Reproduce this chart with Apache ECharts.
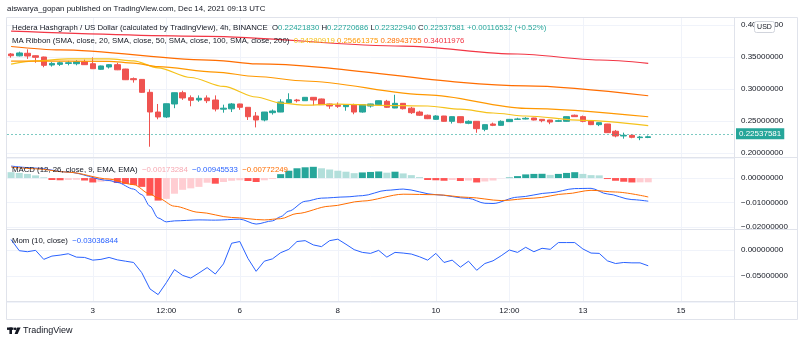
<!DOCTYPE html>
<html><head><meta charset="utf-8">
<script src="https://cdn.jsdelivr.net/npm/echarts@6.0.0/dist/echarts.min.js"></script>
<style>html,body{margin:0;padding:0;background:#fff}#c{width:800px;height:343px}</style>
</head><body><div id="c"></div>
<script>
const FONT = '"Liberation Sans", Arial, sans-serif';
// candle index: 0 = Dec 3 00:00, 4h candles; first candle idx -10, last idx 68
const firstIdx = -10, lastAxisIdx = 78;
const timeTickIdx = [0, 9, 18, 30, 42, 51, 60, 72];
const timeTickText = ['3', '12:00', '6', '8', '10', '12:00', '13', '15'];

const opens = [0.3547,0.3518,0.3558,0.3520,0.3500,0.3375,0.3385,0.3400,0.3395,0.3427,
 0.3395,0.3308,0.3344,0.3380,0.3312,0.3162,0.3150,0.2948,0.2640,0.2563,
 0.2766,0.2942,0.2864,0.2828,0.2860,0.2828,0.2685,0.2690,0.2766,0.2714,
 0.2578,0.2516,0.2630,0.2640,0.2786,0.2828,0.2817,0.2870,0.2844,0.2766,
 0.2745,0.2724,0.2755,0.2640,0.2734,0.2755,0.2808,0.2703,0.2776,0.2700,
 0.2640,0.2590,0.2526,0.2578,0.2495,0.2568,0.2464,0.2495,0.2370,0.2453,
 0.2432,0.2490,0.2526,0.2531,0.2547,0.2526,0.2516,0.2495,0.2495,0.2590,
 0.2568,0.2505,0.2443,0.2453,0.2340,0.2266,0.2276,0.2240,0.22421830];
const closes = [0.3520,0.3563,0.3516,0.3495,0.3370,0.3400,0.3410,0.3410,0.3427,0.3380,
 0.3317,0.3360,0.3380,0.3300,0.3145,0.3145,0.2948,0.2641,0.2563,0.2770,
 0.2942,0.2860,0.2823,0.2855,0.2817,0.2687,0.2700,0.2766,0.2714,0.2567,
 0.2516,0.2640,0.2656,0.2797,0.2833,0.2817,0.2870,0.2828,0.2755,0.2734,
 0.2730,0.2755,0.2640,0.2755,0.2766,0.2817,0.2714,0.2776,0.2692,0.2630,
 0.2590,0.2536,0.2578,0.2495,0.2568,0.2474,0.2495,0.2380,0.2443,0.2432,
 0.2495,0.2526,0.2531,0.2542,0.2516,0.2505,0.2484,0.2505,0.2568,0.2568,
 0.2495,0.2443,0.2474,0.2318,0.2266,0.2276,0.2245,0.2250,0.22537581];
const lows = [0.3490,0.3510,0.3470,0.3410,0.3340,0.3350,0.3360,0.3370,0.3370,0.3375,
 0.3312,0.3300,0.3320,0.3295,0.3140,0.3100,0.2940,0.2098,0.2527,0.2547,
 0.2700,0.2830,0.2730,0.2800,0.2780,0.2650,0.2630,0.2640,0.2675,0.2516,
 0.2400,0.2495,0.2600,0.2638,0.2776,0.2790,0.2815,0.2745,0.2750,0.2690,
 0.2705,0.2660,0.2605,0.2630,0.2710,0.2750,0.2705,0.2700,0.2680,0.2610,
 0.2580,0.2530,0.2520,0.2490,0.2460,0.2465,0.2450,0.2316,0.2340,0.2420,
 0.2425,0.2485,0.2520,0.2525,0.2510,0.2480,0.2450,0.2485,0.2490,0.2565,
 0.2480,0.2436,0.2420,0.2315,0.2245,0.2224,0.2230,0.2200,0.22322940];
const highs = [0.3562,0.3583,0.3620,0.3525,0.3505,0.3420,0.3430,0.3440,0.3450,0.3460,
 0.3495,0.3365,0.3390,0.3410,0.3315,0.3180,0.3155,0.2995,0.2766,0.2772,
 0.2945,0.2973,0.2900,0.2900,0.2900,0.2900,0.2755,0.2780,0.2770,0.2716,
 0.2640,0.2642,0.2680,0.2840,0.2933,0.2845,0.2875,0.2875,0.2850,0.2770,
 0.2790,0.2760,0.2770,0.2760,0.2770,0.2820,0.2830,0.2910,0.2778,0.2720,
 0.2660,0.2600,0.2590,0.2580,0.2570,0.2570,0.2510,0.2500,0.2445,0.2475,
 0.2510,0.2530,0.2550,0.2560,0.2550,0.2530,0.2520,0.2520,0.2572,0.2600,
 0.2585,0.2510,0.2480,0.2455,0.2360,0.2318,0.2290,0.2268,0.22720686];

// MA ribbon: [candle index, value]
const ma20 = [[-10,0.3390],[-7,0.3440],[-3,0.3472],[2,0.3472],[5,0.3440],[8,0.3330],[12,0.3180],[16,0.3040],[20,0.2875],[23,0.2780],[26,0.2748],[30,0.2765],[35,0.2745],[41,0.2734],[45,0.2685],[49,0.2625],[53,0.2578],[60,0.2510],[68,0.24280919]];
const ma50 = [[-10,0.3437],[2,0.3433],[5,0.3405],[8,0.3350],[15,0.3265],[20,0.3195],[26,0.3125],[41,0.2908],[53,0.2698],[68,0.25661375]];
const ma100 = [[-10,0.3664],[-4,0.3610],[15,0.3448],[20,0.3393],[53,0.3050],[68,0.28943755]];
const ma200 = [[-10,0.3903],[14,0.3823],[38,0.3670],[52,0.3547],[62,0.3453],[68,0.34011976]];

// MACD histogram per candle
const macdHist = [0.0024,0.0021,0.0017,0.0011,0.0003,-0.0008,-0.0009,-0.0008,-0.0007,-0.0010,
 -0.0018,-0.0015,-0.0013,-0.0020,-0.0024,-0.0028,-0.0036,-0.0072,-0.0092,-0.0085,
 -0.0064,-0.0048,-0.0042,-0.0036,-0.0019,-0.0023,-0.0016,-0.0011,-0.0009,-0.0012,
 -0.0016,-0.0009,-0.0004,0.0016,0.0030,0.0040,0.0044,0.0046,0.0040,0.0035,
 0.0030,0.0026,0.0020,0.0023,0.0025,0.0027,0.0022,0.0026,0.0019,0.0012,
 0.0004,-0.0008,-0.0009,-0.0011,-0.0008,-0.0012,-0.0010,-0.0018,-0.0014,-0.0010,
 -0.0001,0.0002,0.0008,0.0015,0.0017,0.00175,0.0013,0.0017,0.0021,0.0024,
 0.0017,0.0012,0.0011,-0.0004,-0.0011,-0.0015,-0.0018,-0.00175,-0.00173284];
const macdLine = [[-10,0.0049],[-7,0.0041],[-3,0.0024],[2,-0.0010],[3,-0.0018],[5,-0.0045],[6,-0.0068],[7,-0.0115],[8,-0.0163],[9,-0.0179],[10,-0.0175],[13,-0.0171],[15,-0.0172],[18,-0.0168],[20,-0.0188],[22,-0.0175],[23,-0.0158],[24,-0.0135],[26,-0.0095],[28,-0.0082],[31,-0.0077],[33,-0.0072],[36,-0.0050],[38,-0.0045],[42,-0.0068],[46,-0.0083],[48,-0.0103],[49,-0.0104],[52,-0.0078],[56,-0.0060],[59,-0.0043],[61,-0.0042],[63,-0.0065],[66,-0.0088],[68,-0.00945533]];
const signalLine = [[-10,0.0045],[-7,0.0038],[-3,0.0024],[2,-0.0004],[5,-0.0027],[7,-0.0065],[8,-0.0082],[10,-0.0115],[13,-0.0140],[17,-0.0161],[21,-0.0171],[23,-0.0166],[25,-0.0145],[29,-0.0115],[33,-0.0094],[38,-0.0066],[42,-0.0068],[46,-0.0079],[50,-0.0092],[54,-0.0082],[58,-0.0064],[61,-0.0050],[64,-0.0057],[68,-0.00772249]];

// Momentum (10) per candle
const mom = [0.020,-0.0013,-0.0033,-0.0007,-0.018,-0.0117,-0.0098,-0.0072,-0.0137,-0.0143,
 -0.0195,-0.018,-0.0143,-0.0189,-0.0215,-0.024,-0.0436,-0.0748,-0.0858,-0.063,
 -0.0377,-0.0488,-0.054,-0.0442,-0.0338,-0.0462,-0.0267,0.013,0.0163,-0.0163,
 -0.041,-0.0215,-0.017,-0.0052,0.0013,0.0163,0.018,0.0098,0.0065,0.018,
 0.0208,0.011,0.0007,-0.0046,-0.0065,-0.0007,-0.0137,-0.0046,-0.0059,-0.0078,
 -0.013,-0.0195,-0.0065,-0.024,-0.0195,-0.033,-0.0215,-0.039,-0.026,-0.0208,
 -0.011,0,-0.0046,0.0052,-0.0033,0.0033,0.0013,0.0143,0.0143,0.0143,
 0.002,-0.0059,-0.0065,-0.0208,-0.026,-0.024,-0.0247,-0.0247,-0.03036844];

// legend / header texts
const headerTitle = 'Hedera Hashgraph / US Dollar (calculated by TradingView), 4h, BINANCE';
const ohlcText = ['0.22421830', '0.22720686', '0.22322940', '0.22537581'];
const changeText = '+0.00116532 (+0.52%)';
const maTitle = 'MA Ribbon (SMA, close, 20, SMA, close, 50, SMA, close, 100, SMA, close, 200)';
const maText = ['0.24280919', '0.25661375', '0.28943755', '0.34011976'];
const macdTitle = 'MACD (12, 26, close, 9, EMA, EMA)';
const macdText = ['\u22120.00173284', '\u22120.00945533', '\u22120.00772249'];
const momTitle = 'Mom (10, close)';
const momText = '\u22120.03036844';

const UP = '#26a69a', DOWN = '#ef5350', DARK = '#131722', GRID = '#f0f3fa', BORDER = '#e0e3eb';
const MA_COLORS = ['#f5c21b', '#ff9800', '#ff6d00', '#f23645'];
const TXT = 7.8;

const categories = [];
for (let i = firstIdx; i <= lastAxisIdx; i++) categories.push(String(i));
const toCat = pts => pts.map(p => [p[0] - firstIdx, p[1]]);

function fmtPrice(v) {
  let r = Math.round(v * 1e8) / 1e8;
  if (Math.abs(r) < 1e-12) r = 0;
  return (r < 0 ? '\u2212' : '') + Math.abs(r).toFixed(8);
}

const histColors = macdHist.map((v, k) => {
  if (k === 0) return v >= 0 ? '#b2dfdb' : '#ff5252';
  const p = macdHist[k - 1];
  if (v >= 0) return v > p ? '#26a69a' : '#b2dfdb';
  return v > p ? '#ffcdd2' : '#ff5252';
});

const grids = [
  { left: 7, right: 66, top: 25, height: 128 },
  { left: 7, right: 66, top: 158, height: 69 },
  { left: 7, right: 66, top: 229, height: 73 }
];
const xAxes = [0, 1, 2].map(g => ({
  type: 'category', gridIndex: g, data: categories, boundaryGap: true,
  axisLine: { show: false }, axisTick: { show: false }, splitLine: { show: false },
  axisLabel: g === 2 ? {
    show: true, fontSize: 8, fontFamily: FONT, color: DARK, margin: 5,
    interval: (index) => timeTickIdx.indexOf(index + firstIdx) >= 0,
    formatter: (value, index) => {
      const k = timeTickIdx.indexOf(index + firstIdx);
      return k >= 0 ? timeTickText[k] : '';
    }
  } : { show: false }
}));
const yBase = {
  position: 'right', axisLine: { show: false }, axisTick: { show: false },
  splitLine: { show: true, lineStyle: { color: GRID, width: 1 } }
};
const yLabel = (extra) => Object.assign({ fontSize: 8, fontFamily: FONT, color: DARK, margin: 7, formatter: fmtPrice }, extra);
const yAxes = [
  Object.assign({ gridIndex: 0, min: 0.2, max: 0.4, interval: 0.05, axisLabel: yLabel({}) }, yBase),
  Object.assign({ gridIndex: 1, min: -0.02, max: 0.0082, interval: 0.01, axisLabel: yLabel({ showMaxLabel: false }) }, yBase),
  Object.assign({ gridIndex: 2, min: -0.1, max: 0.0404, interval: 0.05, axisLabel: yLabel({ showMaxLabel: false, showMinLabel: false }) }, yBase)
];

const lastClose = closes[closes.length - 1];
const lineSeries = (name, data, color, grid, width, smooth) => ({
  name, type: 'line', xAxisIndex: grid, yAxisIndex: grid, data, symbol: 'none', showSymbol: false,
  smooth: smooth, smoothMonotone: 'x', silent: true,
  lineStyle: { color, width }, z: 3
});

const option = {
  animation: false,
  backgroundColor: '#ffffff',
  grid: grids, xAxis: xAxes, yAxis: yAxes,
  series: [
    {
      type: 'candlestick', xAxisIndex: 0, yAxisIndex: 0, barWidth: 6, silent: true,
      data: opens.map((o, k) => [o, closes[k], lows[k], highs[k]]),
      itemStyle: { color: UP, color0: DOWN, borderColor: UP, borderColor0: DOWN, borderWidth: 1 },
      markLine: {
        silent: true, symbol: ['none', 'none'], animation: false,
        data: [{ yAxis: lastClose }],
        lineStyle: { color: 'rgba(38,166,154,0.6)', type: [2, 2], width: 1 },
        label: {
          show: true, position: 'end', formatter: fmtPrice(lastClose), color: '#ffffff',
          backgroundColor: '#26a69a', padding: [2, 3, 1, 3], fontSize: 8, fontFamily: FONT, distance: 2,
          opacity: 1
        }
      }
    },
    lineSeries('MA20', toCat(ma20), MA_COLORS[0], 0, 1.2, 0.3),
    lineSeries('MA50', toCat(ma50), MA_COLORS[1], 0, 1.2, 0.3),
    lineSeries('MA100', toCat(ma100), MA_COLORS[2], 0, 1.2, 0.3),
    lineSeries('MA200', toCat(ma200), MA_COLORS[3], 0, 1.2, 0.3),
    {
      type: 'bar', xAxisIndex: 1, yAxisIndex: 1, silent: true, barCategoryGap: '14%',
      data: macdHist.map((v, k) => ({ value: v, itemStyle: { color: histColors[k] } }))
    },
    lineSeries('MACD', toCat(macdLine), '#2962ff', 1, 1, 0.3),
    lineSeries('Signal', toCat(signalLine), '#ff6d00', 1, 1, 0.3),
    lineSeries('Mom', mom, '#2962ff', 2, 1, false)
  ]
};

const chart = echarts.init(document.getElementById('c'), null, { renderer: 'canvas' });
chart.setOption(option);

function rich(segs, size) {
  let text = ''; const r = {};
  segs.forEach((s, i) => {
    const key = 's' + i;
    r[key] = { fill: s[1], color: s[1], fontSize: size, fontFamily: FONT };
    text += '{' + key + '|' + s[0] + '}';
  });
  return { text, rich: r };
}
function textEl(x, y, segs, size) {
  const rr = rich(segs, size);
  return { type: 'text', x, y, z: 100, silent: true,
    style: { text: rr.text, rich: rr.rich, fontSize: size, fontFamily: FONT, verticalAlign: 'middle', align: 'left', fill: DARK } };
}
function hline(x1, x2, y, color) {
  return { type: 'line', z: 50, silent: true, shape: { x1, y1: y, x2, y2: y }, style: { stroke: color, lineWidth: 1 } };
}
function vline(x, y1, y2, color, z) {
  return { type: 'line', z: z, silent: true, shape: { x1: x, y1, x2: x, y2 }, style: { stroke: color, lineWidth: 1 } };
}

const els = [];
// vertical gridlines at the time labels, placed through the x axis scale
timeTickIdx.forEach(i => {
  const x = Math.round(chart.convertToPixel({ xAxisIndex: 2 }, i - firstIdx)) + 0.5;
  els.push(vline(x, 18, 301, GRID, 0));
});
// frame and pane separators
els.push({ type: 'rect', z: 50, silent: true, shape: { x: 6.5, y: 17.5, width: 791, height: 302 }, style: { fill: 'none', stroke: BORDER, lineWidth: 1 } });
els.push(hline(7, 797, 157.5, BORDER));
els.push(hline(7, 797, 229.5, BORDER));
els.push(hline(7, 797, 301.5, BORDER));
els.push(vline(734.5, 18, 319, BORDER, 50));
// USD badge
els.push({ type: 'rect', z: 110, silent: true, shape: { x: 754.5, y: 21.5, width: 20, height: 11, r: 2 }, style: { fill: '#fff', stroke: '#d1d4dc', lineWidth: 1 } });
els.push({ type: 'text', z: 111, silent: true, x: 764.5, y: 27.5, style: { text: 'USD', fontSize: 7, fontFamily: FONT, fill: DARK, align: 'center', verticalAlign: 'middle' } });
// texts
els.push(textEl(7, 8.5, [['aiswarya_gopan published on TradingView.com, Dec 14, 2021 09:13 UTC', DARK]], 7.9));
els.push(textEl(12, 27.5, [[headerTitle + '  O', DARK], [ohlcText[0], UP], [' H', DARK], [ohlcText[1], UP], [' L', DARK], [ohlcText[2], UP], [' C', DARK], [ohlcText[3], UP], [' ' + changeText, UP]], TXT));
els.push(textEl(12, 40.5, [[maTitle + '  ', DARK], [maText[0], MA_COLORS[0]], [' ', DARK], [maText[1], MA_COLORS[1]], [' ', DARK], [maText[2], MA_COLORS[2]], [' ', DARK], [maText[3], MA_COLORS[3]]], TXT));
els.push(textEl(12, 169.5, [[macdTitle + '  ', DARK], [macdText[0], '#f7a8b2'], ['  ', DARK], [macdText[1], '#2962ff'], ['  ', DARK], [macdText[2], '#ff6d00']], TXT));
els.push(textEl(12, 240.5, [[momTitle + '  ', DARK], [momText, '#2962ff']], TXT));
// TradingView logo
els.push({ type: 'rect', z: 100, silent: true, shape: { x: 7, y: 327.5, width: 6.5, height: 2.4 }, style: { fill: DARK } });
els.push({ type: 'rect', z: 100, silent: true, shape: { x: 9.4, y: 327.5, width: 2.6, height: 6.5 }, style: { fill: DARK } });
els.push({ type: 'circle', z: 100, silent: true, shape: { cx: 15.2, cy: 328.8, r: 1.4 }, style: { fill: DARK } });
els.push({ type: 'polygon', z: 100, silent: true, shape: { points: [[17.2, 327.5], [20.6, 327.5], [17.6, 334], [14.6, 334]] }, style: { fill: DARK } });
els.push({ type: 'text', z: 100, silent: true, x: 23, y: 331, style: { text: 'TradingView', fontSize: 9, fontFamily: FONT, fill: DARK, verticalAlign: 'middle' } });

chart.setOption({ graphic: { elements: els } });
</script>
</body></html>
